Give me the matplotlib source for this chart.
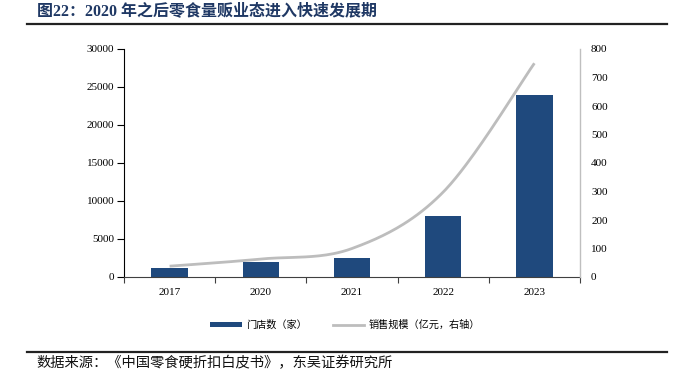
import numpy as np
import matplotlib
matplotlib.use("Agg")
import matplotlib.pyplot as plt
from matplotlib.lines import Line2D
from matplotlib.patches import Patch

# ---- data ----
years = ["2017", "2020", "2021", "2022", "2023"]
stores = [1200, 2000, 2500, 8000, 24000]          # 门店数（家）
sales = [38, 63, 100, 298, 750]                   # 销售规模（亿元）
left_ticks = [0, 5000, 10000, 15000, 20000, 25000, 30000]
right_ticks = [0, 100, 200, 300, 400, 500, 600, 700, 800]

title = "图22：2020 年之后零食量贩业态进入快速发展期"
source = "数据来源：《中国零食硬折扣白皮书》，东吴证券研究所"
bar_label = "门店数（家）"
line_label = "销售规模（亿元，右轴）"

BAR_C = "#1F497D"
LINE_C = "#BDBDBD"
TITLE_C = "#1F3864"
serif_cjk = ["Liberation Serif", "Noto Sans CJK SC"]
cjk = ["Noto Sans CJK SC", "DejaVu Sans"]

W, H = 683, 375
fig = plt.figure(figsize=(W / 100, H / 100), dpi=100)

def fx(px):
    return px / W

def fy(py):
    return 1 - py / H

ax = fig.add_axes([fx(124), fy(277), fx(580) - fx(124), fy(49) - fy(277)])
x = np.arange(len(years))
ax.bar(x, stores, width=0.4, color=BAR_C, zorder=2)
ax.set_xlim(-0.5, len(years) - 0.5)
ax.set_ylim(left_ticks[0], left_ticks[-1])
ax.set_yticks(left_ticks)
ax.set_yticklabels([str(t) for t in left_ticks], fontfamily="Liberation Serif", fontsize=8)
ax.set_xticks(x)
ax.set_xticklabels(years, fontfamily="Liberation Serif", fontsize=8)
ax.set_xticks(np.arange(len(years) + 1) - 0.5, minor=True)
ax.tick_params(axis="x", which="major", length=0, pad=8)
ax.tick_params(axis="x", which="minor", length=4, width=0.8, color="#404040", direction="out")
ax.tick_params(axis="y", length=5, width=0.8, direction="out", pad=2)
for s in ["top", "right"]:
    ax.spines[s].set_visible(False)
ax.spines["left"].set_color("#000000")
ax.spines["left"].set_linewidth(0.8)
ax.spines["bottom"].set_color("#404040")
ax.spines["bottom"].set_linewidth(0.8)

# right axis with smoothed line (Catmull-Rom through data points)
ax2 = ax.twinx()
ax2.set_ylim(right_ticks[0], right_ticks[-1])
ax2.set_yticks(right_ticks)
ax2.set_yticklabels([str(t) for t in right_ticks], fontfamily="Liberation Serif", fontsize=8)
ax2.tick_params(axis="y", length=0, pad=8)
for s in ["top", "left", "bottom"]:
    ax2.spines[s].set_visible(False)
ax2.spines["right"].set_color("#BFBFBF")
ax2.spines["right"].set_linewidth(1.0)

P = np.column_stack([x.astype(float), np.array(sales, dtype=float)])
Pe = np.vstack([P[0], P, P[-1]])
xs, ys = [], []
for i in range(1, len(Pe) - 2):
    p0, p1, p2, p3 = Pe[i - 1], Pe[i], Pe[i + 1], Pe[i + 2]
    c1 = p1 + (p2 - p0) / 6
    c2 = p2 - (p3 - p1) / 6
    t = np.linspace(0, 1, 40)[:, None]
    seg = (1 - t) ** 3 * p1 + 3 * (1 - t) ** 2 * t * c1 + 3 * (1 - t) * t ** 2 * c2 + t ** 3 * p2
    xs.extend(seg[:, 0]); ys.extend(seg[:, 1])
ax2.plot(xs, ys, color=LINE_C, lw=2.0, solid_capstyle="butt", zorder=3)

# title and rules
fig.text(fx(37), fy(11), title, fontfamily=serif_cjk, fontweight="bold",
         fontsize=11.5, color=TITLE_C, va="center", ha="left")
fig.add_artist(Line2D([fx(27), fx(667)], [fy(24), fy(24)], color="#222222", lw=1.6))
fig.add_artist(Line2D([fx(27), fx(667)], [fy(352), fy(352)], color="#222222", lw=1.6))
fig.text(fx(36), fy(363), source, fontfamily=cjk, fontsize=10.3, color="#111111",
         va="center", ha="left")

# legend
handles = [Patch(facecolor=BAR_C, edgecolor="none"),
           Line2D([0], [0], color=LINE_C, lw=2.0)]
leg = fig.legend(handles, [bar_label, line_label], loc="center",
                 bbox_to_anchor=(fx(345), fy(325)), ncol=2, frameon=False,
                 prop={"family": cjk, "size": 7.3}, handlelength=3.1,
                 handleheight=0.5, handletextpad=0.4, columnspacing=2.6)

fig.savefig("out.png", dpi=100)
